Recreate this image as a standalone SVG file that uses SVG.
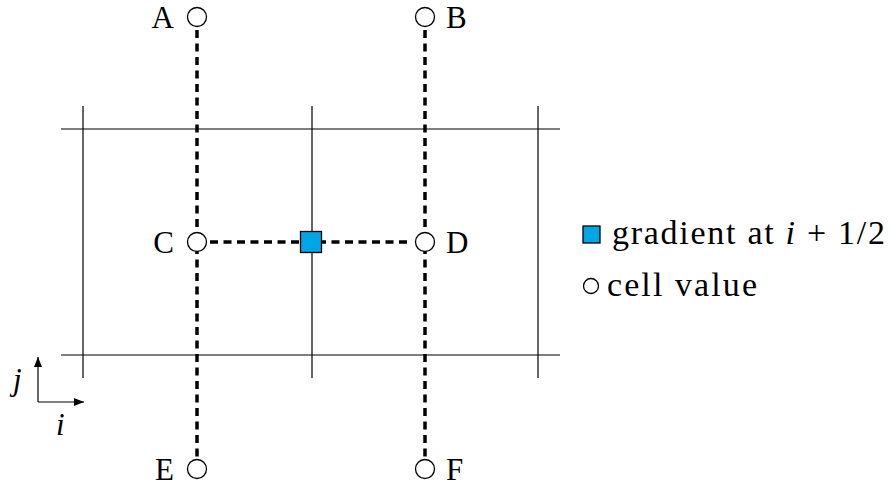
<svg xmlns="http://www.w3.org/2000/svg" width="890" height="489" viewBox="0 0 890 489">
<defs>
<style>
.grid{stroke:#000;stroke-width:1.2;fill:none}
.dash{stroke:#000;stroke-width:3.5;stroke-dasharray:8,5.5;fill:none}
.cell{fill:#fff;stroke:#000;stroke-width:1.3}
.grad{fill:#00a5e6;stroke:#000;stroke-width:1.3}
.lbl{font-family:"Liberation Serif","Times New Roman",serif;font-size:31px;fill:#000}
.leg{font-size:34px}
.it{font-style:italic}
.axis{stroke:#000;stroke-width:1.2;fill:none}
</style>
<marker id="ah" viewBox="0 0 10 10" refX="10" refY="5" markerWidth="10" markerHeight="10" markerUnits="userSpaceOnUse" orient="auto">
<path d="M0,1 L10,5 L0,9 Z" fill="#000"/>
</marker>
</defs>
<g id="grid">
<line class="grid" x1="61" y1="129" x2="560" y2="129"/>
<line class="grid" x1="61" y1="355" x2="560" y2="355"/>
<line class="grid" x1="83" y1="106" x2="83" y2="378"/>
<line class="grid" x1="312" y1="106" x2="312" y2="378"/>
<line class="grid" x1="538" y1="106" x2="538" y2="378"/>
</g>
<g id="connectors">
<line class="dash" x1="197" y1="30" x2="197" y2="458"/>
<line class="dash" x1="425" y1="30" x2="425" y2="458"/>
<line class="dash" x1="210" y1="242" x2="412" y2="242"/>
</g>
<g id="A"><circle class="cell" cx="197" cy="17" r="9.5"/><text class="lbl" x="174" y="28" text-anchor="end">A</text></g>
<g id="B"><circle class="cell" cx="425" cy="17" r="9.5"/><text class="lbl" x="446" y="28">B</text></g>
<g id="C"><circle class="cell" cx="197" cy="242" r="9.5"/><text class="lbl" x="174" y="253" text-anchor="end">C</text></g>
<g id="D"><circle class="cell" cx="425" cy="242" r="9.5"/><text class="lbl" x="446" y="253">D</text></g>
<g id="E"><circle class="cell" cx="197" cy="469" r="9.5"/><text class="lbl" x="174" y="480" text-anchor="end">E</text></g>
<g id="F"><circle class="cell" cx="425" cy="469" r="9.5"/><text class="lbl" x="446" y="480">F</text></g>
<g id="gradient"><rect class="grad" x="300.5" y="231.5" width="21" height="21"/></g>
<g id="axes">
<line class="axis" x1="38" y1="402" x2="38" y2="357" marker-end="url(#ah)"/>
<line class="axis" x1="38" y1="402" x2="84" y2="402" marker-end="url(#ah)"/>
<text class="lbl it" x="13" y="390">j</text>
<text class="lbl it" x="56" y="435">i</text>
</g>
<g id="legend">
<rect class="grad" x="583" y="226" width="17" height="17"/>
<text class="lbl leg" x="612" y="244" textLength="273" lengthAdjust="spacing">gradient at <tspan class="it">i</tspan> + 1/2</text>
<circle class="cell" cx="591" cy="286" r="7.5"/>
<text class="lbl leg" x="607" y="296" textLength="150" lengthAdjust="spacing">cell value</text>
</g>
</svg>
